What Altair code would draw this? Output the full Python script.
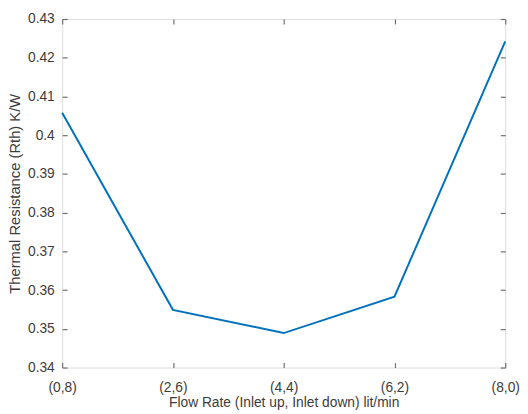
import altair as alt
import pandas as pd

categories = ["(0,8)", "(2,6)", "(4,4)", "(6,2)", "(8,0)"]
rth = [0.4058, 0.3549, 0.3489, 0.3583, 0.4242]
y_ticks = [0.34, 0.35, 0.36, 0.37, 0.38, 0.39, 0.40, 0.41, 0.42, 0.43]

df = pd.DataFrame({"flow": categories, "rth": rth})

FONT = "Liberation Sans"
FRAME = "#808080"
TEXT = "#3c3c3c"

xscale = alt.Scale(type="point", padding=0, domain=categories)
yscale = alt.Scale(domain=[0.34, 0.43], zero=False, nice=False)

base = alt.Chart(df)

tick_style = dict(ticks=True, tickSize=5, offset=-5, tickColor="#6e6e6e",
                  tickWidth=1.2, tickOpacity=1, zindex=1, domain=False, grid=False)

line = base.mark_line(color="#0072BD", strokeWidth=2).encode(
    x=alt.X("flow:N", scale=xscale, sort=categories,
            axis=alt.Axis(title="Flow Rate (Inlet up, Inlet down) lit/min",
                          labelAngle=0, labelPadding=13, titlePadding=2,
                          labelFontSize=14, titleFontSize=14,
                          labelFont=FONT, titleFont=FONT,
                          labelColor=TEXT, titleColor=TEXT,
                          titleFontWeight="normal", orient="bottom",
                          **tick_style)),
    y=alt.Y("rth:Q", scale=yscale,
            axis=alt.Axis(title="Thermal Resistance (Rth) K/W",
                          values=y_ticks, format=".2~f",
                          labelPadding=8, titlePadding=5,
                          labelFontSize=14, titleFontSize=15,
                          labelFont=FONT, titleFont=FONT,
                          labelColor=TEXT, titleColor=TEXT,
                          titleFontWeight="normal", orient="left",
                          **tick_style)),
)

mirror = base.mark_line(opacity=0).encode(
    x=alt.X("flow:N", scale=xscale, sort=categories,
            axis=alt.Axis(title=None, labels=False, orient="top", **tick_style)),
    y=alt.Y("rth:Q", scale=yscale,
            axis=alt.Axis(title=None, labels=False, values=y_ticks,
                          orient="right", **tick_style)),
)

chart = alt.layer(line, mirror).resolve_axis(
    x="independent", y="independent"
).properties(
    width=450,
    height=354,
    padding={"left": 55, "top": 8, "right": 15, "bottom": 44},
    autosize=alt.AutoSizeParams(type="none"),
).configure_view(stroke=FRAME, strokeWidth=1).configure(background="white")

chart.save("out.html", embed_options={"renderer": "svg", "actions": False})
